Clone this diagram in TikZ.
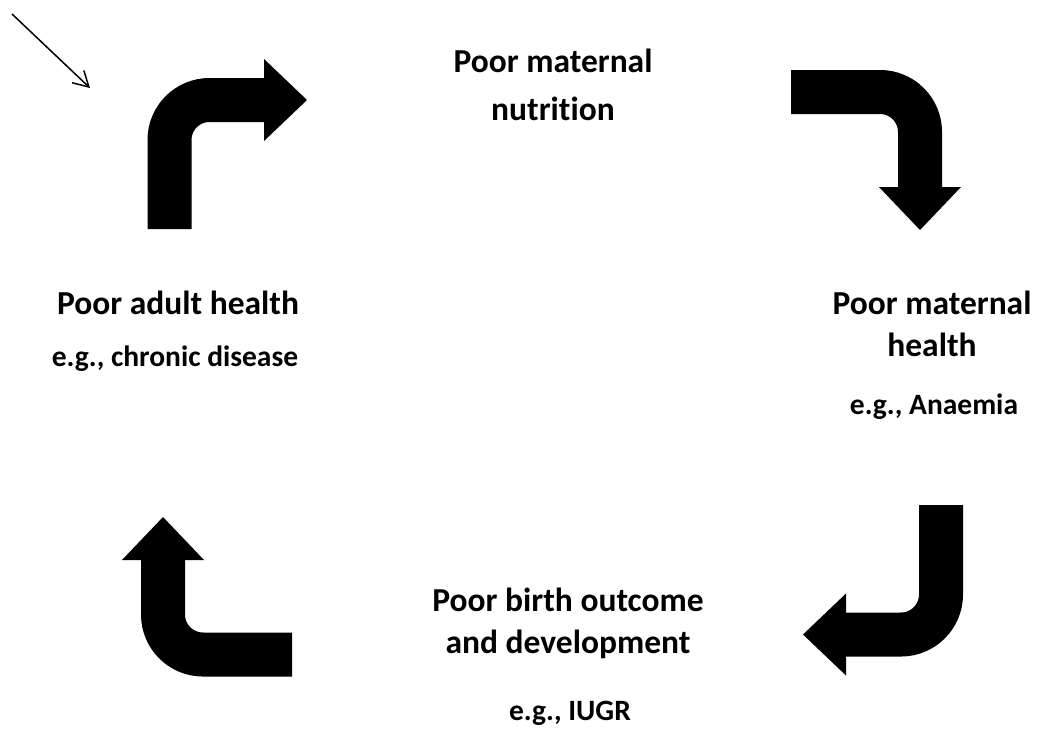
\documentclass[tikz,border=0pt]{standalone}
\usepackage{fontspec}
\setmainfont{Carlito}[Ligatures=NoCommon]
\usetikzlibrary{arrows.meta}
\definecolor{cyink}{HTML}{000000}
\tikzset{
  cy text/.style={text=cyink},
  cy head/.style={font=\fontsize{33.5}{42}\selectfont\bfseries, align=center,
    anchor=base, inner sep=0pt},
  cy note/.style={font=\fontsize{29.5}{34}\selectfont\bfseries, anchor=base, inner sep=0pt},
  cy turn/.style={draw=cyink, line width=44pt, line cap=butt, rounded corners=40pt,
    -{Triangle[length=43pt,width=82pt,line width=0pt]}},
  cy pointer/.style={draw=cyink, line width=1.5pt,
    -{Straight Barb[length=15pt,width=17pt]}}
}

\begin{document}
\begin{tikzpicture}[cy text, x=1pt, y=-1pt]
  \useasboundingbox (0,0) rectangle (1037,729);
  % the four stages
  \node[cy head, font=\fontsize{33.5}{48}\selectfont\bfseries] (nut) at (553,120)
    {Poor maternal\\nutrition};
  \node[cy head] (mat) at (932,356) {Poor maternal\\health};
  \node[cy note] (matx) at (934,414) {e.g., Anaemia};
  \node[cy head] (bir) at (568,653) {Poor birth outcome\\and development};
  \node[cy note] (birx) at (570,720) {e.g., IUGR};
  \node[cy head] (adu) at (178,314) {Poor adult health};
  \node[cy note] (adux) at (175,366) {e.g., chronic disease};
  % turning arrows
  \coordinate (t1a) at (169.5,229);
  \coordinate (t1b) at (307,100);
  \coordinate (t2a) at (791,92);
  \coordinate (t2b) at (920,230);
  \coordinate (t3a) at (941,505);
  \coordinate (t3b) at (803,634.5);
  \coordinate (t4a) at (292,654.5);
  \coordinate (t4b) at (163,517);
  \draw[cy turn] (t1a) |- (t1b);
  \draw[cy turn] (t2a) -| (t2b);
  \draw[cy turn] (t3a) |- (t3b);
  \draw[cy turn] (t4a) -| (t4b);
  % corner pointer
  \coordinate (p0) at (12,14);
  \coordinate (p1) at (90,88);
  \draw[cy pointer] (p0) -- (p1);
\end{tikzpicture}
\end{document}
